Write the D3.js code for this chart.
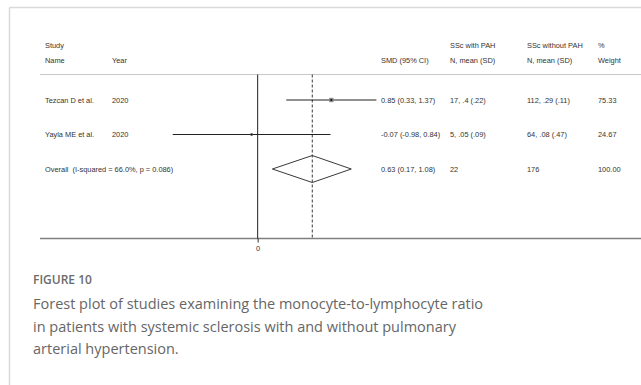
<!DOCTYPE html>
<html>
<head>
<meta charset="utf-8">
<script src="https://cdn.jsdelivr.net/npm/d3@7"></script>
<style>
  html, body { margin: 0; padding: 0; background: #fff; }
  svg { display: block; }
</style>
</head>
<body>
<svg id="chart" width="641" height="385"></svg>
<script>
// Study-level data
const studies = ["Tezcan D et al.", "Yayla ME et al."];
const years = ["2020", "2020"];
const smd = [0.85, -0.07];
const ciLow = [0.33, -0.98];
const ciHigh = [1.37, 0.84];
const withPAH = ["17, .4 (.22)", "5, .05 (.09)"];
const withoutPAH = ["112, .29 (.11)", "64, .08 (.47)"];
const weights = [75.33, 24.67];

// Pooled estimate
const overallLabel = "Overall  (I-squared = 66.0%, p = 0.086)";
const overallSmd = 0.63;
const overallLow = 0.17;
const overallHigh = 1.08;
const overallWithPAH = "22";
const overallWithoutPAH = "176";
const overallWeight = 100.00;

// Axis ticks
const xTicks = [0];

const captionTitle = "FIGURE 10";
const captionLines = [
  "Forest plot of studies examining the monocyte-to-lymphocyte ratio",
  "in patients with systemic sclerosis with and without pulmonary",
  "arterial hypertension."
];

const svg = d3.select("#chart");
// Plain hyphen for negative numbers
const locale = d3.formatLocale({ decimal: ".", thousands: ",", grouping: [3], currency: ["", ""], minus: "-" });
const f2 = locale.format(".2f");
const fmtCI = (e, l, h) => `${f2(e)} (${f2(l)}, ${f2(h)})`;

// Card frame (top and left edges)
svg.append("line").attr("x1", 9.5).attr("x2", 641).attr("y1", 7.5).attr("y2", 7.5)
  .attr("stroke", "#d9d9d9").attr("stroke-width", 1.5);
svg.append("line").attr("x1", 9.5).attr("x2", 9.5).attr("y1", 7.5).attr("y2", 385)
  .attr("stroke", "#d9d9d9").attr("stroke-width", 1.5);

// Scales
const x = d3.scaleLinear().domain([-2.5, 4.4]).range([41, 639]);
const rowKeys = ["s0", "s1", "overall"];
const y = d3.scalePoint().domain(rowKeys).range([100, 169]);

const headerY = 74.5;
const axisY = 238.5;

const col = { study: 45, year: 112, smd: 381, withP: 450, withoutP: 527, weight: 598 };
const textColor = "#333";
const fontFamily = "'Liberation Sans', Arial, sans-serif";
const fs = 7.4;

const g = svg.append("g").attr("font-family", fontFamily).attr("font-size", fs).attr("fill", textColor);

// Column headers
const hdr = [
  [col.study, 45, "Study"], [col.study, 60, "Name"], [col.year, 60, "Year"],
  [col.smd, 60, "SMD (95% CI)"],
  [col.withP, 45, "SSc with PAH"], [col.withP, 60, "N, mean (SD)"],
  [col.withoutP, 45, "SSc without PAH"], [col.withoutP, 60, "N, mean (SD)"],
  [col.weight, 45, "%"], [col.weight, 60, "Weight"]
];
g.selectAll("text.hdr").data(hdr).join("text").attr("class", "hdr")
  .attr("x", d => d[0]).attr("y", d => d[1]).attr("dy", "0.35em").text(d => d[2]);

// Header rule
svg.append("line").attr("x1", 40).attr("x2", 641).attr("y1", headerY).attr("y2", headerY)
  .attr("stroke", "#c8c8c8").attr("stroke-width", 1);

// Axis
const axis = d3.axisBottom(x).tickValues(xTicks).tickSize(4).tickSizeOuter(0).tickFormat(locale.format("d"));
const ax = svg.append("g").attr("transform", `translate(0,${axisY})`).call(axis);
ax.select(".domain").attr("stroke", "#808080").attr("stroke-width", 1.3)
  .attr("d", `M40,0H641`);
ax.selectAll(".tick line").attr("stroke", "#333");
ax.selectAll(".tick text").attr("font-family", fontFamily).attr("font-size", fs)
  .attr("fill", textColor).attr("y", 7);

// Null line and pooled-effect line
svg.append("line").attr("x1", x(0)).attr("x2", x(0)).attr("y1", headerY).attr("y2", axisY)
  .attr("stroke", "#222").attr("stroke-width", 1);
svg.append("line").attr("x1", x(overallSmd)).attr("x2", x(overallSmd)).attr("y1", headerY).attr("y2", axisY)
  .attr("stroke", "#222").attr("stroke-width", 0.9).attr("stroke-dasharray", "3,2");

// Study rows
const rows = studies.map((s, i) => ({
  key: "s" + i, study: s, year: years[i], est: smd[i], lo: ciLow[i], hi: ciHigh[i],
  withP: withPAH[i], withoutP: withoutPAH[i], w: weights[i]
}));

const marks = svg.append("g");
marks.selectAll("line.ci").data(rows).join("line").attr("class", "ci")
  .attr("x1", d => x(d.lo)).attr("x2", d => x(d.hi))
  .attr("y1", d => y(d.key)).attr("y2", d => y(d.key))
  .attr("stroke", "#222").attr("stroke-width", 1);

const boxSide = d => 0.5 * Math.sqrt(d.w);
marks.selectAll("rect.box").data(rows).join("rect").attr("class", "box")
  .attr("x", d => x(d.est) - boxSide(d) / 2).attr("y", d => y(d.key) - boxSide(d) / 2)
  .attr("width", boxSide).attr("height", boxSide)
  .attr("fill", "#8a8a8a");
marks.selectAll("circle.pt").data(rows).join("circle").attr("class", "pt")
  .attr("cx", d => x(d.est)).attr("cy", d => y(d.key)).attr("r", 1.1)
  .attr("fill", "#111");

const rowText = g.selectAll("g.row").data(rows).join("g").attr("class", "row");
const cells = [
  [col.study, d => d.study], [col.year, d => d.year],
  [col.smd, d => fmtCI(d.est, d.lo, d.hi)],
  [col.withP, d => d.withP], [col.withoutP, d => d.withoutP],
  [col.weight, d => f2(d.w)]
];
cells.forEach(([cx, fn]) => {
  rowText.append("text").attr("x", cx).attr("y", d => y(d.key)).attr("dy", "0.35em").text(fn);
});

// Pooled diamond
const oy = y("overall");
const dh = 13.5;
svg.append("path")
  .attr("d", `M${x(overallLow)},${oy}L${x(overallSmd)},${oy - dh}L${x(overallHigh)},${oy}L${x(overallSmd)},${oy + dh}Z`)
  .attr("fill", "none").attr("stroke", "#222").attr("stroke-width", 0.9);

const overallCells = [
  [col.study, overallLabel],
  [col.smd, fmtCI(overallSmd, overallLow, overallHigh)],
  [col.withP, overallWithPAH], [col.withoutP, overallWithoutPAH],
  [col.weight, f2(overallWeight)]
];
g.selectAll("text.ov").data(overallCells).join("text").attr("class", "ov")
  .attr("x", d => d[0]).attr("y", oy).attr("dy", "0.35em")
  .attr("xml:space", "preserve").style("white-space", "pre").text(d => d[1]);

// Caption
const cap = svg.append("g").attr("font-family", "'Open Sans', sans-serif");
cap.append("text").attr("x", 33).attr("y", 280).attr("dy", "0.35em")
  .attr("font-size", 12).attr("font-weight", 600).attr("fill", "#6b6b6b").text(captionTitle);
cap.selectAll("text.cl").data(captionLines).join("text").attr("class", "cl")
  .attr("x", 33).attr("y", (d, i) => 304 + i * 22.5).attr("dy", "0.35em")
  .attr("font-size", 14.5).attr("font-weight", 400).attr("fill", "#666").text(d => d);
</script>
</body>
</html>
